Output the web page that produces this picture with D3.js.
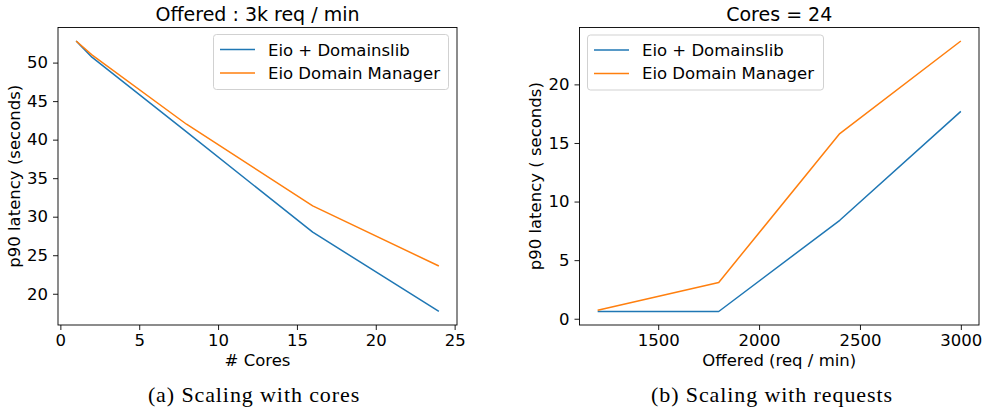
<!DOCTYPE html>
<html lang="en">
<head>
<meta charset="utf-8">
<title>p90 latency scaling</title>
<style>
	body, html {
	  margin: 0;
	  background: #fff;
	}
	svg text {
	  font-family: "DejaVu Sans", sans-serif;
	  fill: #000;
	}
	.caption {
	  font-family: "Liberation Serif", serif;
	}
</style>
</head>
<body>
<svg></svg>
<script src="https://d3js.org/d3.v7.min.js"></script>
<script>

	// data
	let seriesNames = ["Eio + Domainslib", "Eio Domain Manager"];
	let seriesColors = ["#1f77b4", "#ff7f0e"];

	// (a) offered 3k req / min, varying cores
	let cores = [1, 2, 8, 16, 24];
	let coresDomainslib = [52.8, 50.7, 41.0, 28.0, 17.7];
	let coresManager = [52.8, 51.0, 42.0, 31.4, 23.6];
	let coresTicksX = [0, 5, 10, 15, 20, 25];
	let coresTicksY = [20, 25, 30, 35, 40, 45, 50];

	// (b) cores = 24, varying offered load
	let offered = [1200, 1800, 2400, 3000];
	let offeredDomainslib = [0.62, 0.62, 8.4, 17.7];
	let offeredManager = [0.73, 3.1, 15.8, 23.7];
	let offeredTicksX = [1500, 2000, 2500, 3000];
	let offeredTicksY = [0, 5, 10, 15, 20];

	let w = 987, h = 413;
	let fs = 16.5; // tick / label / legend font size

	let svg = d3.select("svg")
		.attr("width", w)
		.attr("height", h);

	// matplotlib style 5% padding around the data
	function padded(vals) {
		let [lo, hi] = d3.extent(vals);
		let m = (hi - lo) * 0.05;
		return [lo - m, hi + m];
	}

	function drawPanel(p) {
		let g = svg.append("g");

		let x = d3.scaleLinear()
			.domain(padded(p.xs))
			.range([p.left, p.right]);
		let y = d3.scaleLinear()
			.domain(padded(p.ys[0].concat(p.ys[1])))
			.range([p.bottom, p.top]);

		// axes
		let xAxis = g.append("g")
			.attr("transform", `translate(0,${p.bottom})`)
			.call(d3.axisBottom(x).tickValues(p.ticksX).tickSize(5).tickPadding(4).tickFormat(d3.format("d")));
		let yAxis = g.append("g")
			.attr("transform", `translate(${p.left},0)`)
			.call(d3.axisLeft(y).tickValues(p.ticksY).tickSize(5).tickPadding(5).tickFormat(d3.format("d")));

		[xAxis, yAxis].forEach(a => {
			a.attr("font-size", null).attr("font-family", null);
			a.select(".domain").remove();
			a.selectAll("line").attr("stroke", "#000").attr("stroke-width", 0.9);
			a.selectAll("text")
				.style("font-family", "DejaVu Sans")
				.style("font-size", fs + "px")
				.attr("fill", "#000");
		});

		// frame
		g.append("rect")
			.attr("x", p.left)
			.attr("y", p.top)
			.attr("width", p.right - p.left)
			.attr("height", p.bottom - p.top)
			.attr("fill", "none")
			.attr("stroke", "#000")
			.attr("stroke-width", 0.9);

		// lines
		let line = d3.line()
			.x((d, i) => x(p.xs[i]))
			.y(d => y(d));

		p.ys.forEach((ys, k) => {
			g.append("path")
				.datum(ys)
				.attr("d", line)
				.attr("fill", "none")
				.attr("stroke", seriesColors[k])
				.attr("stroke-width", 1.5)
				.attr("stroke-linejoin", "round");
		});

		// title
		g.append("text")
			.attr("x", (p.left + p.right) / 2)
			.attr("y", 21)
			.attr("text-anchor", "middle")
			.style("font-size", "19px")
			.text(p.title);

		// x label
		g.append("text")
			.attr("x", (p.left + p.right) / 2)
			.attr("y", 366)
			.attr("text-anchor", "middle")
			.style("font-size", fs + "px")
			.text(p.xLabel);

		// y label
		g.append("text")
			.attr("transform", `translate(${p.yLabelX},${(p.top + p.bottom) / 2}) rotate(-90)`)
			.attr("text-anchor", "middle")
			.style("font-size", fs + "px")
			.text(p.yLabel);

		// legend
		let lg = g.append("g")
			.attr("transform", `translate(${p.legendX},${p.legendY})`);
		lg.append("rect")
			.attr("width", p.legendW)
			.attr("height", 55)
			.attr("rx", 3)
			.attr("fill", "#fff")
			.attr("fill-opacity", 0.8)
			.attr("stroke", "#ccc")
			.attr("stroke-width", 0.9);
		seriesNames.forEach((name, k) => {
			let yy = 15 + k * 23.4;
			lg.append("line")
				.attr("x1", 6.5)
				.attr("x2", 41.5)
				.attr("y1", yy)
				.attr("y2", yy)
				.attr("stroke", seriesColors[k])
				.attr("stroke-width", 1.5);
			lg.append("text")
				.attr("x", 54.5)
				.attr("y", yy + 6)
				.style("font-size", fs + "px")
				.text(name);
		});

		// caption under the panel
		svg.append("text")
			.attr("class", "caption")
			.attr("x", p.captionX)
			.attr("y", 401.5)
			.attr("text-anchor", "middle")
			.style("font-family", "Liberation Serif")
			.style("font-size", "22px")
			.style("letter-spacing", "0.9px")
			.text(p.caption);
	}

	drawPanel({
		xs: cores,
		ys: [coresDomainslib, coresManager],
		ticksX: coresTicksX,
		ticksY: coresTicksY,
		left: 58, right: 457, top: 27.5, bottom: 325,
		title: "Offered : 3k req / min",
		xLabel: "# Cores",
		yLabel: "p90 latency (seconds)",
		yLabelX: 19.5,
		legendX: 213.5, legendY: 34.5, legendW: 235,
		caption: "(a) Scaling with cores",
		captionX: 254
	});

	drawPanel({
		xs: offered,
		ys: [offeredDomainslib, offeredManager],
		ticksX: offeredTicksX,
		ticksY: offeredTicksY,
		left: 579.5, right: 979, top: 27.5, bottom: 325,
		title: "Cores = 24",
		xLabel: "Offered (req / min)",
		yLabel: "p90 latency ( seconds)",
		yLabelX: 541,
		legendX: 587.5, legendY: 35, legendW: 236,
		caption: "(b) Scaling with requests",
		captionX: 772
	});

</script>
</body>
</html>
